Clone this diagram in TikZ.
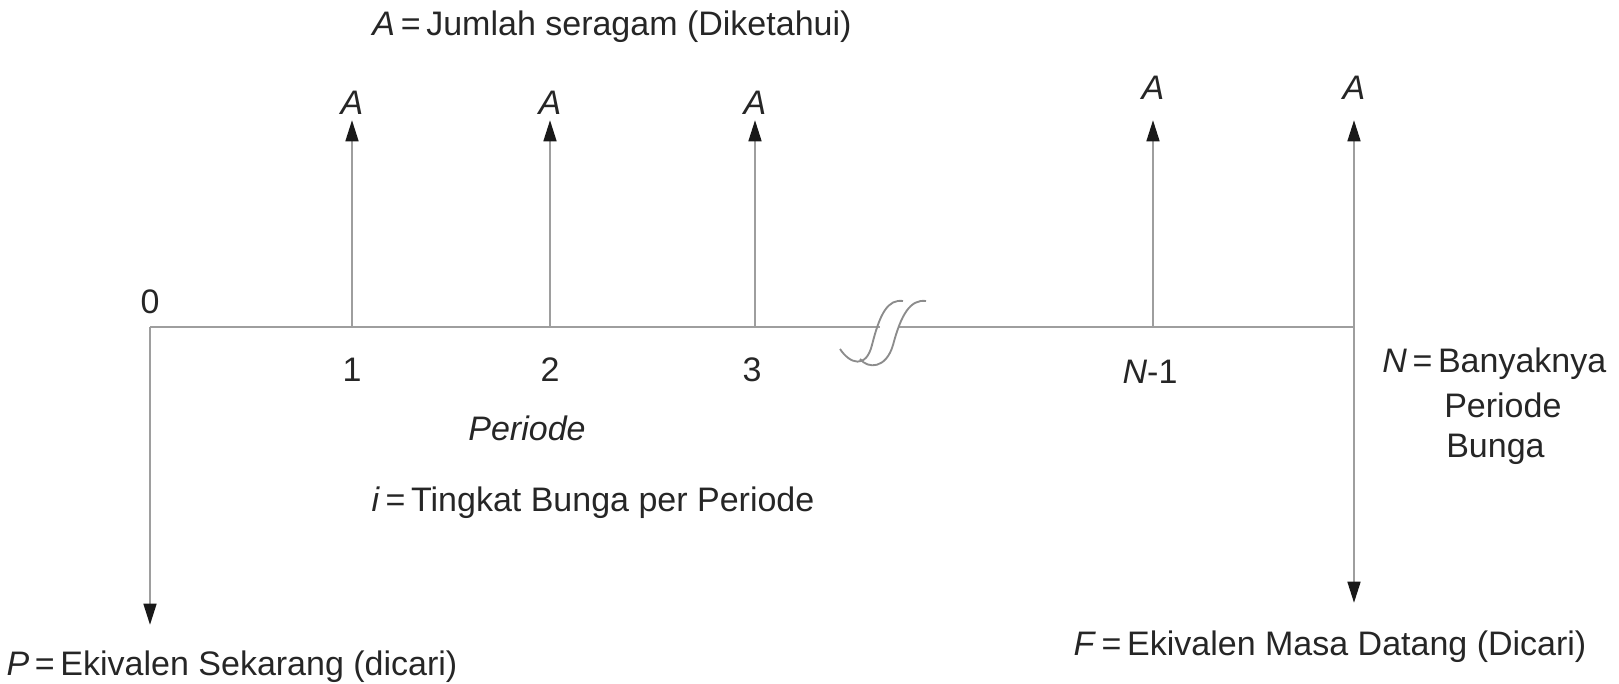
\documentclass[tikz,border=0pt]{standalone}
\usepackage{fontspec}
\setmainfont{Liberation Sans}
\usetikzlibrary{arrows.meta}
\begin{document}
\begin{tikzpicture}[x=0.75pt,y=-0.75pt,
  axisline/.style={draw=black!38, line width=2pt},
  breakline/.style={draw=black!45, line width=1.4pt},
  arr/.style={axisline, -{Triangle[length=16pt,width=9.5pt,color=black!90]}},
  lbl/.style={font=\fontsize{25.5}{30}\selectfont, text=black!85, inner sep=0pt}]
\useasboundingbox (0,0) rectangle (1619,683);
% axis points
\coordinate (t0) at (150,327);
\coordinate (t1) at (352,327);
\coordinate (t2) at (550,327);
\coordinate (t3) at (755,327);
\coordinate (tn1) at (1153,327);
\coordinate (tN) at (1354,327);
\coordinate (gapL) at (880,327);
\coordinate (gapR) at (898,327);
% arrow tips
\coordinate (a1) at (352,120);
\coordinate (a2) at (550,120);
\coordinate (a3) at (755,120);
\coordinate (an1) at (1153,120);
\coordinate (aN) at (1354,120);
\coordinate (pTip) at (150,625);
\coordinate (fTip) at (1354,603);
% axis
\draw[axisline] (t0) -- (gapL);
\draw[axisline] (gapR) -- (tN);
% break symbol
\draw[breakline] (840,349) .. controls (850,364) and (866,369) .. (872,345) .. controls (880,313) and (888,299) .. (903,301);
\draw[breakline] (860,359) .. controls (868,369) and (886,369) .. (893,345) .. controls (901,315) and (910,299) .. (926,301);
% arrows
\draw[arr] (t1) -- (a1);
\draw[arr] (t2) -- (a2);
\draw[arr] (t3) -- (a3);
\draw[arr] (tn1) -- (an1);
\draw[arr] (tN) -- (aN);
\draw[arr] (tN) -- (fTip);
\draw[arr] (t0) -- (pTip);
% labels
\node[lbl] (title) at (612,27) {\textit{A}\,=\,Jumlah seragam (Diketahui)};
\node[lbl] (A1) at (352,103) {\textit{A}};
\node[lbl] (A2) at (550,103) {\textit{A}};
\node[lbl] (A3) at (755,103) {\textit{A}};
\node[lbl] (An1) at (1153,88) {\textit{A}};
\node[lbl] (AN) at (1354,88) {\textit{A}};
\node[lbl] (l0) at (150,302) {0};
\node[lbl] (l1) at (352,370) {1};
\node[lbl] (l2) at (550,370) {2};
\node[lbl] (l3) at (752,370) {3};
\node[lbl] (ln1) at (1150,372) {\textit{N}-1};
\node[lbl] (per) at (527,428) {\textit{Periode}};
\node[lbl] (ieq) at (593,503) {\textit{i}\,=\,Tingkat Bunga per Periode};
\node[lbl, anchor=west] (nb1) at (1382,364) {\textit{N}\,=\,Banyaknya};
\node[lbl, anchor=west] (nb2) at (1444,405) {Periode};
\node[lbl, anchor=west] (nb3) at (1446,449) {Bunga};
\node[lbl] (ptext) at (232,667) {\textit{P}\,=\,Ekivalen Sekarang (dicari)};
\node[lbl] (ftext) at (1330,647) {\textit{F}\,=\,Ekivalen Masa Datang (Dicari)};
\end{tikzpicture}
\end{document}
